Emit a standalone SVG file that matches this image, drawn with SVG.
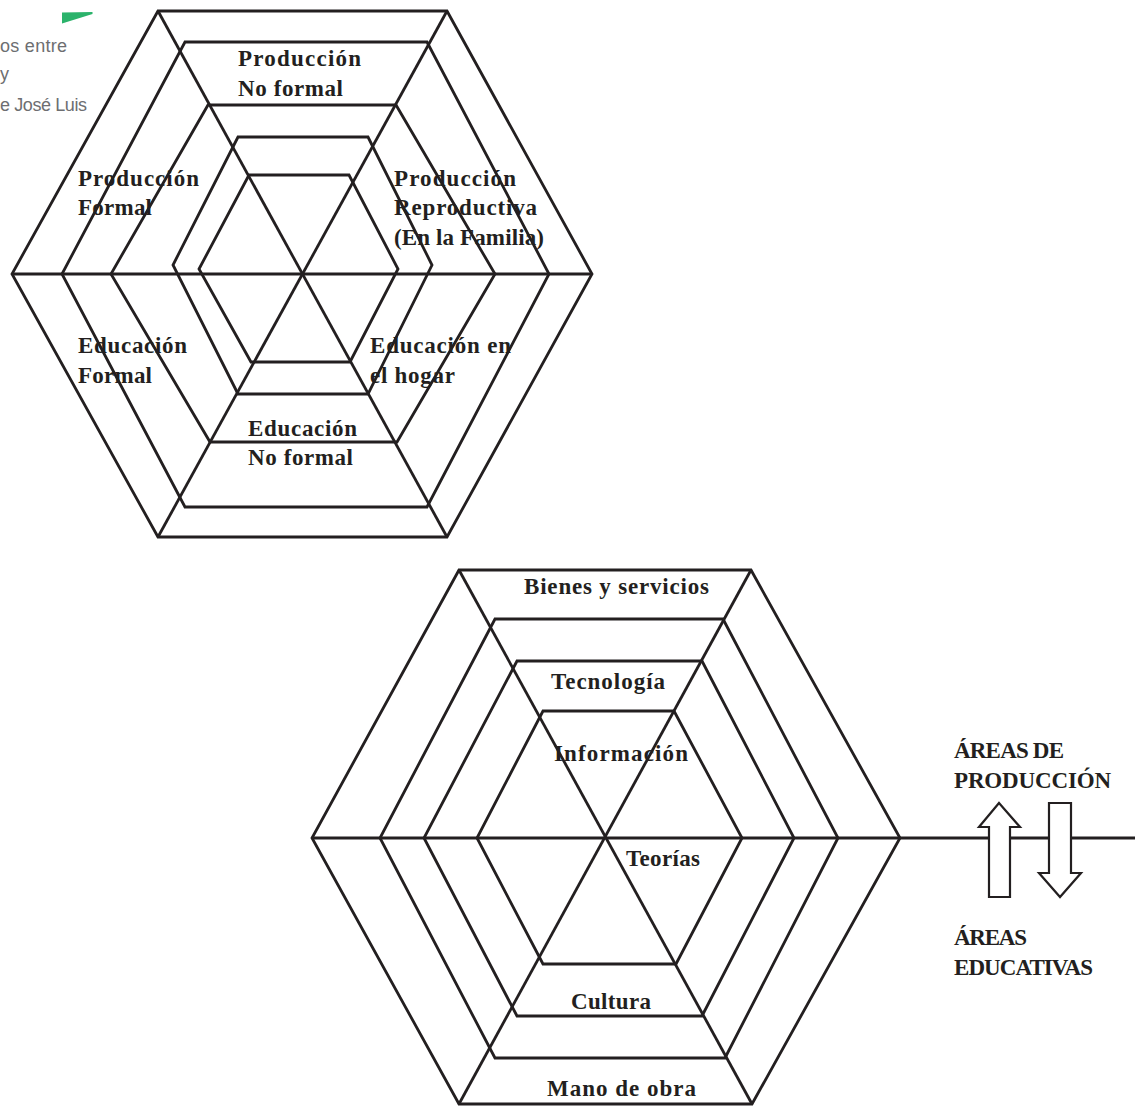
<svg xmlns="http://www.w3.org/2000/svg" width="1141" height="1106" viewBox="0 0 1141 1106">
  <style>
    .hex { fill: none; stroke: #231f20; stroke-width: 2.8; stroke-linejoin: miter; }
    .line { fill: none; stroke: #231f20; stroke-width: 2.8; stroke-linecap: butt; }
    .arrow { fill: #ffffff; stroke: #231f20; stroke-width: 2.2; stroke-linejoin: miter; }
    .lbl { font-family: "Liberation Serif", "Times New Roman", serif; font-weight: bold; font-size: 23px; fill: #231f20; }
    .gray { font-family: "Liberation Sans", Arial, sans-serif; font-size: 18px; fill: #6d6e71; }
  </style>
  <rect x="0" y="0" width="1141" height="1106" fill="#ffffff"/>

  <!-- fragment at top left -->
  <g id="fragment">
    <polygon points="62,12.5 92.5,12 92.5,14 62,23.5" fill="#2bb36b"/>
    <text class="gray" x="0" y="52" textLength="67">os entre</text>
    <text class="gray" x="0" y="80">y</text>
    <text class="gray" x="0" y="111" textLength="87">e José Luis</text>
  </g>

  <!-- ===== Top diagram ===== -->
  <g id="top-hex-1"><polygon class="hex" points="158,11 447,11 592,274 447,537 158,537 12,274"/></g>
  <g id="top-hex-2"><polygon class="hex" points="185,42 427,42 549,274 427,507 185,507 62,274"/></g>
  <g id="top-hex-3"><polygon class="hex" points="208,105 396,105 495,274 397,442 210,442 111,274"/></g>
  <g id="top-hex-4"><polygon class="hex" points="238,137 368,137 432,265 368,394 238,394 173,265"/></g>
  <g id="top-hex-5"><polygon class="hex" points="249,175 349,175 398,269 350,362 251,362 199,269"/></g>

  <!-- ===== Bottom diagram ===== -->
  <g id="bottom-hex-1"><polygon class="hex" points="459,570 751,570 900,838 752,1104 459,1104 312,838"/></g>
  <g id="bottom-hex-2"><polygon class="hex" points="495,619 723,619 838,838 725,1058 495,1058 380,838"/></g>
  <g id="bottom-hex-3"><polygon class="hex" points="517,661 702,661 794,838 702,1016 517,1016 424,838"/></g>
  <g id="bottom-hex-4"><polygon class="hex" points="543,711 674,711 742,838 676,964 543,964 477,838"/></g>

  <!-- connectors: spokes and axis lines -->
  <g id="connectors">
    <line class="line" x1="158" y1="11" x2="447" y2="537"/>
    <line class="line" x1="447" y1="11" x2="158" y2="537"/>
    <line class="line" x1="12" y1="274" x2="592" y2="274"/>
    <line class="line" x1="459" y1="570" x2="752" y2="1104"/>
    <line class="line" x1="751" y1="570" x2="459" y2="1104"/>
    <line class="line" x1="312" y1="838" x2="1135" y2="838"/>
  </g>

  <!-- arrows -->
  <g id="arrow-up"><polygon class="arrow" points="999,803 1020,827 1010,827 1010,897 989,897 989,827 979,827"/></g>
  <g id="arrow-down"><polygon class="arrow" points="1049,803 1071,803 1071,873 1081,873 1060,897 1039,873 1049,873"/></g>

  <!-- top labels -->
  <g id="lbl-produccion-no-formal">
    <text class="lbl" x="238" y="66" textLength="123">Producción</text>
    <text class="lbl" x="238" y="96" textLength="105">No formal</text>
  </g>
  <g id="lbl-produccion-formal">
    <text class="lbl" x="78" y="186" textLength="121">Producción</text>
    <text class="lbl" x="78" y="215" textLength="74">Formal</text>
  </g>
  <g id="lbl-produccion-reproductiva">
    <text class="lbl" x="394" y="186" textLength="122">Producción</text>
    <text class="lbl" x="394" y="215" textLength="143">Reproductiva</text>
    <text class="lbl" x="394" y="245" textLength="150">(En la Familia)</text>
  </g>
  <g id="lbl-educacion-formal">
    <text class="lbl" x="78" y="353" textLength="109">Educación</text>
    <text class="lbl" x="78" y="383" textLength="74">Formal</text>
  </g>
  <g id="lbl-educacion-hogar">
    <text class="lbl" x="370" y="353" textLength="141">Educación en</text>
    <text class="lbl" x="370" y="383" textLength="85">el hogar</text>
  </g>
  <g id="lbl-educacion-no-formal">
    <text class="lbl" x="248" y="436" textLength="109">Educación</text>
    <text class="lbl" x="248" y="465" textLength="105">No formal</text>
  </g>

  <!-- bottom labels -->
  <g id="lbl-bienes"><text class="lbl" x="524" y="594" textLength="185">Bienes y servicios</text></g>
  <g id="lbl-tecnologia"><text class="lbl" x="551" y="689" textLength="114">Tecnología</text></g>
  <g id="lbl-informacion"><text class="lbl" x="554" y="761" textLength="134">Información</text></g>
  <g id="lbl-teorias"><text class="lbl" x="626" y="866" textLength="74">Teorías</text></g>
  <g id="lbl-cultura"><text class="lbl" x="571" y="1009" textLength="80">Cultura</text></g>
  <g id="lbl-mano"><text class="lbl" x="547" y="1096" textLength="149">Mano de obra</text></g>
  <g id="lbl-areas-produccion">
    <text class="lbl" x="954" y="758" textLength="110">ÁREAS DE</text>
    <text class="lbl" x="954" y="788" textLength="157">PRODUCCIÓN</text>
  </g>
  <g id="lbl-areas-educativas">
    <text class="lbl" x="954" y="945" textLength="73">ÁREAS</text>
    <text class="lbl" x="954" y="975" textLength="139">EDUCATIVAS</text>
  </g>
</svg>
